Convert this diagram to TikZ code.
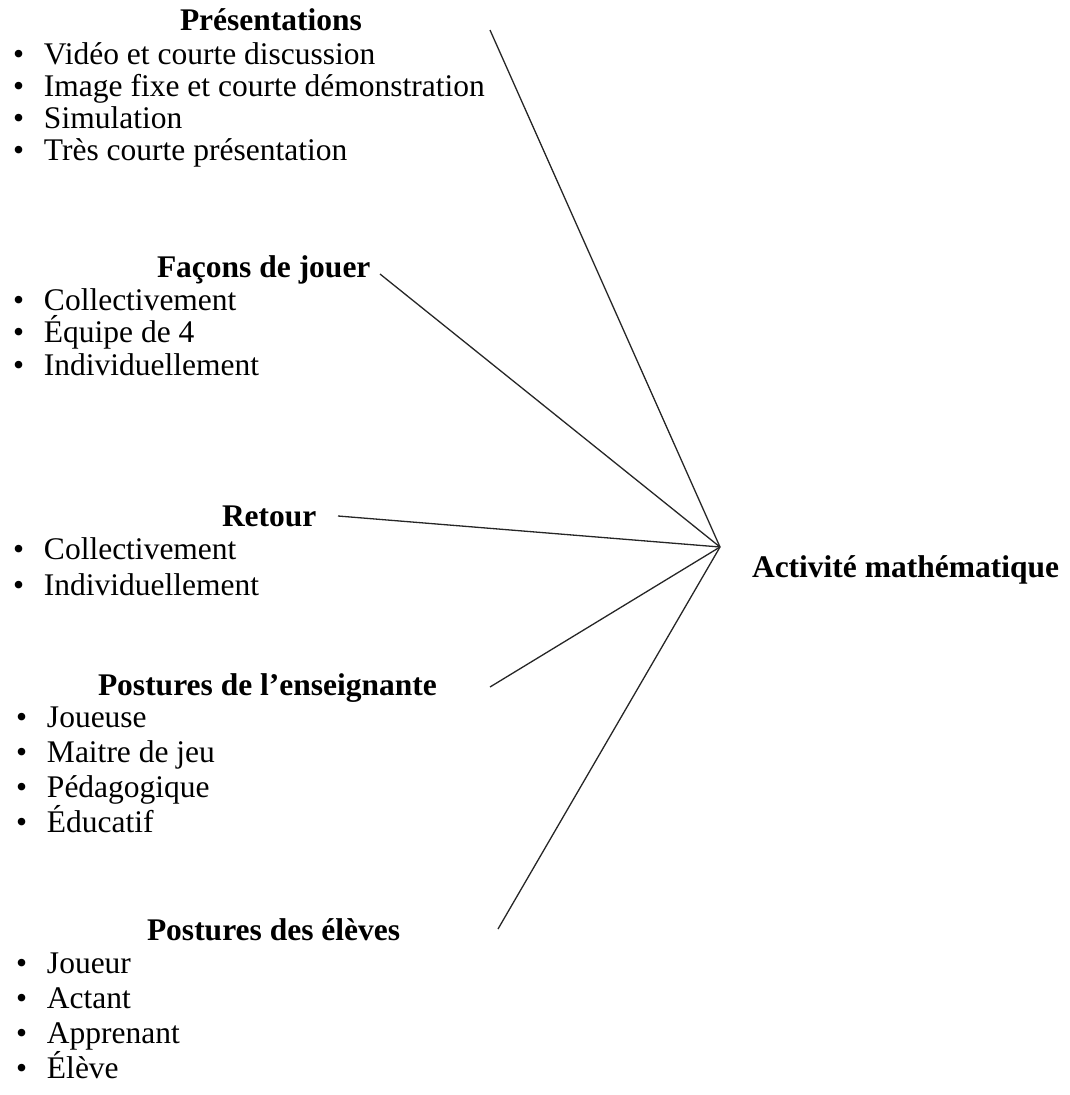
\documentclass[tikz,border=0pt]{standalone}
\usepackage{fontspec}
\setmainfont{Liberation Serif}
\begin{document}
\begin{tikzpicture}[x=1pt,y=-1pt,
  every node/.style={inner sep=0pt,outer sep=0pt,font=\fontsize{31.5}{35}\selectfont},
  heading/.style={anchor=west,font=\fontsize{31.5}{35}\selectfont\bfseries},
  listitem/.style={anchor=base west},
  spoke/.style={draw=black!85,line width=1.3pt}]
\useasboundingbox (0,0) rectangle (1069,1095);
% bullet followed by the item text
\newcommand{\bl}[1]{\makebox[33pt][l]{\hspace{2pt}•}#1}
% a bulleted list: name prefix, left x, first baseline, line step, items
\newcommand{\bulletlist}[5]{%
  \foreach \t [count=\i] in {#5}
    \node[listitem] (#1-\i) at (#2,{#3+(\i-1)*#4}) {\bl{\t}};}

% central concept
\coordinate (hub) at (720,547);
\node[heading] (act) at (752,570) {Activité mathématique};

% presentations
\node[heading] (g1) at (180,20) {Présentations};
\bulletlist{l1}{11}{64}{32}{Vidéo et courte discussion,
  Image fixe et courte démonstration,Simulation,Très courte présentation}

% ways of playing
\node[heading] (g2) at (157,270) {Façons de jouer};
\bulletlist{l2}{11}{310}{32.5}{Collectivement,Équipe de 4,Individuellement}

% feedback
\node[heading] (g3) at (222,516) {Retour};
\bulletlist{l3}{11}{559}{36}{Collectivement,Individuellement}

% teacher postures
\node[heading] (g4) at (98,688) {Postures de l’enseignante};
\bulletlist{l4}{14}{727}{35}{Joueuse,Maitre de jeu,Pédagogique,Éducatif}

% student postures
\node[heading] (g5) at (147,930) {Postures des élèves};
\bulletlist{l5}{14}{973}{35}{Joueur,Actant,Apprenant,Élève}

% spokes towards the central concept
\coordinate (e1) at (490,30);
\coordinate (e2) at (380,274);
\coordinate (e3) at (338,516);
\coordinate (e4) at (490,687);
\coordinate (e5) at (498,929);
\foreach \e in {e1,e2,e3,e4,e5} \draw[spoke] (\e) -- (hub);
\end{tikzpicture}
\end{document}
